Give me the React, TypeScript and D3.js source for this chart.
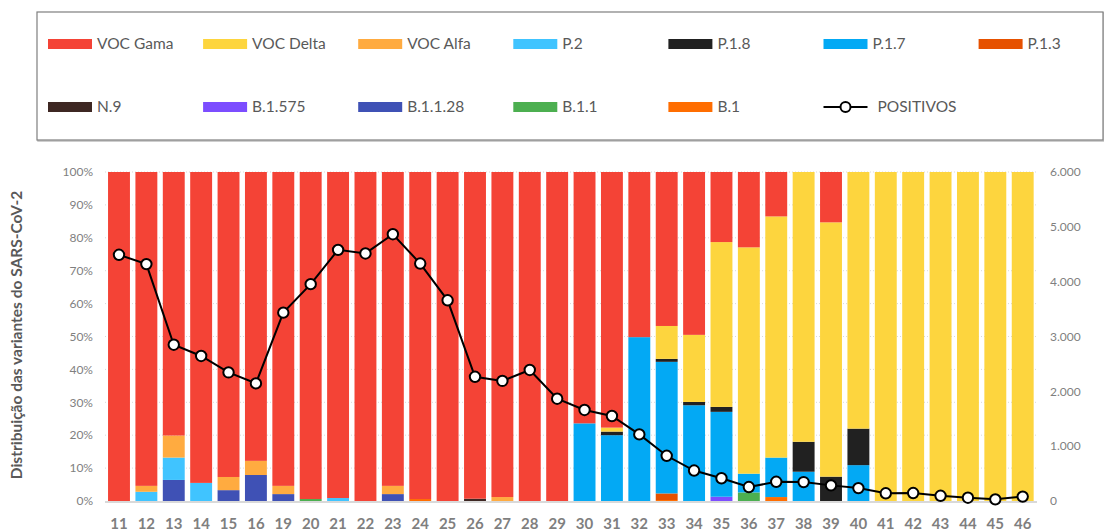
import React, { useRef, useEffect } from 'react';
import * as d3 from 'd3';

// semanas epidemiológicas
const weeks = [11, 12, 13, 14, 15, 16, 19, 20, 21, 22, 23, 24, 25, 26, 27, 28, 29, 30, 31, 32, 33, 34, 35, 36, 37, 38, 39, 40, 41, 42, 43, 44, 45, 46];

// % por variante (stack de baixo para cima); VOC Gama = restante
const b1 =      [0, 0, 0, 0, 0, 0, 0, 0, 0, 0, 0, 0.6, 0, 0, 0, 0, 0, 0, 0, 0, 0.3, 0, 0, 0, 1.2, 0, 0, 0, 0, 0, 0, 0, 0, 0];
const b11 =     [0, 0, 0, 0, 0, 0, 0, 0.6, 0, 0, 0, 0, 0, 0, 0, 0, 0, 0, 0, 0, 0, 0, 0, 2.6, 0, 0, 0, 0, 0, 0, 0, 0, 0, 0];
const b1128 =   [0, 0, 6.4, 0, 3.3, 7.9, 2.1, 0, 0, 0, 2.1, 0, 0, 0, 0, 0, 0, 0, 0, 0, 0, 0, 0, 0, 0, 0, 0, 0, 0, 0, 0, 0, 0, 0];
const b1575 =   [0, 0, 0, 0, 0, 0, 0, 0, 0, 0, 0, 0, 0, 0, 0, 0, 0, 0, 0, 0, 0, 0, 1.3, 0, 0, 0, 0, 0, 0, 0, 0, 0, 0, 0];
const n9 =      [0, 0, 0, 0, 0, 0, 0, 0, 0, 0, 0, 0, 0, 0.7, 0, 0, 0, 0, 0, 0, 0, 0, 0, 0, 0, 0, 0, 0, 0, 0, 0, 0, 0, 0];
const p13 =     [0, 0, 0, 0, 0, 0, 0, 0, 0, 0, 0, 0, 0, 0, 0, 0, 0, 0, 0, 0, 2.0, 0, 0, 0, 0, 0, 0, 0, 0, 0, 0, 0, 0, 0];
const p17 =     [0, 0, 0, 0, 0, 0, 0, 0, 0, 0, 0, 0, 0, 0, 0, 0, 0, 23.6, 20.0, 49.8, 40.0, 29.1, 25.8, 5.7, 12.0, 8.9, 0, 10.9, 0, 0, 0, 0, 0, 0];
const p18 =     [0, 0, 0, 0, 0, 0, 0, 0, 0, 0, 0, 0, 0, 0, 0, 0, 0, 0, 1.1, 0, 0.9, 1.0, 1.5, 0, 0, 9.1, 7.4, 11.1, 0, 0, 0, 0, 0, 0];
const p2 =      [0, 2.8, 6.8, 5.5, 0, 0, 0, 0, 0.9, 0, 0, 0, 0, 0, 0, 0, 0, 0, 0, 0, 0, 0, 0, 0, 0, 0, 0, 0, 0, 0, 0, 0, 0, 0];
const alfa =    [0, 1.8, 6.7, 0, 4.0, 4.3, 2.5, 0, 0, 0, 2.5, 0, 0, 0, 1.2, 0, 0, 0, 0, 0, 0, 0, 0, 0, 0, 0, 0, 0, 0, 0, 0, 0, 0, 0];
const delta =   [0, 0, 0, 0, 0, 0, 0, 0, 0, 0, 0, 0, 0, 0, 0, 0, 0, 0, 1.2, 0, 10.0, 20.4, 50.1, 68.8, 73.3, 82.0, 77.3, 78.0, 100, 100, 100, 100, 100, 100];

// casos positivos (eixo direito)
const positivos = [4490, 4320, 2850, 2645, 2345, 2145, 3435, 3955, 4580, 4515, 4865, 4330, 3660, 2265, 2190, 2390, 1865, 1660, 1550, 1215, 825, 555, 415, 255, 350, 345, 285, 235, 140, 145, 95, 60, 30, 80];

const leftTicks = [0, 10, 20, 30, 40, 50, 60, 70, 80, 90, 100];
const rightTicks = [0, 1000, 2000, 3000, 4000, 5000, 6000];

const FONT = 'Lato, "Open Sans", sans-serif';

const App: React.FC = () => {
  const svgRef = useRef<SVGSVGElement | null>(null);

  useEffect(() => {
    const width = 1104;
    const height = 532;
    d3.select(svgRef.current).selectAll('*').remove();
    const svg = d3.select(svgRef.current).attr('width', width).attr('height', height);

    const variants = [
      { name: 'B.1', color: '#FF6D00', values: b1 },
      { name: 'B.1.1', color: '#4CAF50', values: b11 },
      { name: 'B.1.1.28', color: '#3F51B5', values: b1128 },
      { name: 'B.1.575', color: '#7C4DFF', values: b1575 },
      { name: 'N.9', color: '#3E2723', values: n9 },
      { name: 'P.1.3', color: '#E65100', values: p13 },
      { name: 'P.1.7', color: '#03A9F4', values: p17 },
      { name: 'P.1.8', color: '#212121', values: p18 },
      { name: 'P.2', color: '#40C4FF', values: p2 },
      { name: 'VOC Alfa', color: '#FFAB40', values: alfa },
      { name: 'VOC Delta', color: '#FDD53E', values: delta },
    ];
    const gama = weeks.map((_, i) => Math.max(0, 100 - variants.reduce((s, v) => s + v.values[i], 0)));
    const series = [...variants, { name: 'VOC Gama', color: '#F44336', values: gama }];

    const x = d3.scaleBand<number>().domain(weeks).range([105.3, 1036.4]).paddingInner(0.2).paddingOuter(0.1);
    const y = d3.scaleLinear().domain([0, 100]).range([501, 172]);
    const y2 = d3.scaleLinear().domain([0, 6000]).range([501, 172]);

    // gridlines
    svg.append('g')
      .selectAll('line')
      .data(leftTicks.slice(1))
      .enter()
      .append('line')
      .attr('x1', 105)
      .attr('x2', 1037)
      .attr('y1', d => y(d))
      .attr('y2', d => y(d))
      .style('stroke', '#d9d9d9')
      .style('stroke-width', '1px')
      .style('stroke-dasharray', '1,2');

    // stacked bars
    const tableRows = weeks.map((w, i) => {
      const row: { [key: string]: number } = { week: w };
      series.forEach(s => { row[s.name] = s.values[i]; });
      return row;
    });
    const stack = d3.stack<{ [key: string]: number }>().keys(series.map(s => s.name));
    const stacked = stack(tableRows);

    stacked.forEach((layer, li) => {
      svg.append('g')
        .attr('fill', series[li].color)
        .selectAll('rect')
        .data(layer.filter(d => d[1] - d[0] > 0))
        .enter()
        .append('rect')
        .attr('x', d => x(d.data.week) as number)
        .attr('width', x.bandwidth())
        .attr('y', d => y(d[1]))
        .attr('height', d => y(d[0]) - y(d[1]));
    });

    // baseline
    svg.append('line')
      .attr('x1', 105)
      .attr('x2', 1037)
      .attr('y1', 502)
      .attr('y2', 502)
      .style('stroke', '#d9d9d9')
      .style('stroke-width', '2px');

    // left axis labels
    svg.append('g')
      .selectAll('text')
      .data(leftTicks)
      .enter()
      .append('text')
      .attr('x', 93)
      .attr('y', d => y(d))
      .attr('dy', '0.35em')
      .attr('text-anchor', 'end')
      .style('font-family', FONT)
      .style('font-size', '12px')
      .style('fill', '#7f7f7f')
      .text(d => `${d}%`);

    // right axis labels
    const fmt = (v: number) => (v === 0 ? '0' : d3.format(',')(v).replace(',', '.'));
    svg.append('g')
      .selectAll('text')
      .data(rightTicks)
      .enter()
      .append('text')
      .attr('x', 1050)
      .attr('y', d => y2(d))
      .attr('dy', '0.35em')
      .attr('text-anchor', 'start')
      .style('font-family', FONT)
      .style('font-size', '12px')
      .style('fill', '#7f7f7f')
      .text(d => fmt(d));

    // x labels
    svg.append('g')
      .selectAll('text')
      .data(weeks)
      .enter()
      .append('text')
      .attr('x', d => (x(d) as number) + x.bandwidth() / 2)
      .attr('y', 529)
      .attr('text-anchor', 'middle')
      .style('font-family', FONT)
      .style('font-size', '15px')
      .style('font-weight', 'bold')
      .style('fill', '#7f7f7f')
      .text(d => d);

    // y title
    svg.append('text')
      .attr('transform', `translate(22, 335) rotate(-90)`)
      .attr('text-anchor', 'middle')
      .style('font-family', FONT)
      .style('font-size', '15.5px')
      .style('font-weight', 'bold')
      .style('fill', '#595959')
      .text('Distribuição das variantes do SARS-CoV-2');

    // positivos line
    const line = d3.line<number>()
      .x((d, i) => (x(weeks[i]) as number) + x.bandwidth() / 2)
      .y(d => y2(d));
    svg.append('path')
      .datum(positivos)
      .attr('d', line)
      .style('fill', 'none')
      .style('stroke', '#000')
      .style('stroke-width', '2px');
    svg.append('g')
      .selectAll('circle')
      .data(positivos)
      .enter()
      .append('circle')
      .attr('cx', (d, i) => (x(weeks[i]) as number) + x.bandwidth() / 2)
      .attr('cy', d => y2(d))
      .attr('r', 5.2)
      .style('fill', '#fff')
      .style('stroke', '#000')
      .style('stroke-width', '2px');

    // legend box
    svg.append('rect')
      .attr('x', 38)
      .attr('y', 13)
      .attr('width', 1066)
      .attr('height', 128)
      .style('fill', 'none')
      .style('stroke', '#bfbfbf')
      .style('stroke-width', '1.5px');
    svg.append('rect')
      .attr('x', 37)
      .attr('y', 12)
      .attr('width', 1066)
      .attr('height', 128)
      .style('fill', '#fff')
      .style('stroke', '#7f7f7f')
      .style('stroke-width', '1.2px');

    const legendItems = [
      'VOC Gama', 'VOC Delta', 'VOC Alfa', 'P.2', 'P.1.8', 'P.1.7', 'P.1.3',
      'N.9', 'B.1.575', 'B.1.1.28', 'B.1.1', 'B.1',
    ];
    const colorOf = (n: string) => series.find(s => s.name === n)!.color;
    const legend = svg.append('g');
    legendItems.forEach((name, i) => {
      const col = i % 7;
      const row = Math.floor(i / 7);
      const lx = 48 + col * 155.1;
      const ly = row === 0 ? 44 : 107;
      legend.append('rect')
        .attr('x', lx)
        .attr('y', ly - 5)
        .attr('width', 44)
        .attr('height', 10)
        .attr('fill', colorOf(name));
      legend.append('text')
        .attr('x', lx + 49)
        .attr('y', ly)
        .attr('dy', '0.35em')
        .style('font-family', FONT)
        .style('font-size', '15.5px')
        .style('fill', '#595959')
        .text(name);
    });
    const px = 48 + 5 * 155.1;
    legend.append('line')
      .attr('x1', px)
      .attr('x2', px + 44)
      .attr('y1', 107)
      .attr('y2', 107)
      .style('stroke', '#000')
      .style('stroke-width', '2px');
    legend.append('circle')
      .attr('cx', px + 22)
      .attr('cy', 107)
      .attr('r', 5)
      .style('fill', '#fff')
      .style('stroke', '#000')
      .style('stroke-width', '2px');
    legend.append('text')
      .attr('x', px + 54)
      .attr('y', 107)
      .attr('dy', '0.35em')
      .style('font-family', FONT)
      .style('font-size', '15.5px')
      .style('fill', '#595959')
      .text('POSITIVOS');
  }, []);

  return (
    <div style={{ position: 'absolute', left: 0, top: 0 }}>
      <svg ref={svgRef} style={{ display: 'block' }}></svg>
    </div>
  );
};

export default App;
